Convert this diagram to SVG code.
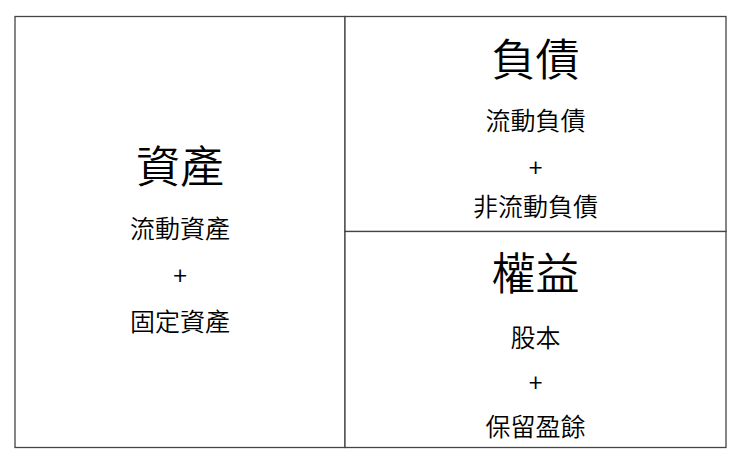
<svg xmlns="http://www.w3.org/2000/svg" width="740" height="458" viewBox="0 0 740 458">
<style>
.box{fill:#fff;stroke:#444;stroke-width:1.3}
text{font-family:"Noto Sans CJK TC","Noto Sans CJK SC",sans-serif;font-weight:350;fill:#000;text-anchor:middle}
.big{font-size:44px}
.small{font-size:25px}
</style>
<rect width="740" height="458" fill="#fff"/>
<g id="assets">
<rect class="box" x="15" y="16.5" width="330" height="431"/>
<text class="big" x="180" y="182.5">資產</text>
<text class="small" x="180" y="238">流動資產</text>
<text class="small" x="180" y="285">+</text>
<text class="small" x="180" y="331">固定資產</text>
</g>
<g id="liabilities">
<rect class="box" x="345" y="16.5" width="381" height="215"/>
<text class="big" x="535.5" y="76">負債</text>
<text class="small" x="535.5" y="129.5">流動負債</text>
<text class="small" x="535.5" y="176.5">+</text>
<text class="small" x="535.5" y="216">非流動負債</text>
</g>
<g id="equity">
<rect class="box" x="345" y="231.5" width="381" height="216"/>
<text class="big" x="535.5" y="290">權益</text>
<text class="small" x="535.5" y="346.5">股本</text>
<text class="small" x="535.5" y="391.5">+</text>
<text class="small" x="535.5" y="435.5">保留盈餘</text>
</g>
<g id="connectors"></g>
</svg>
